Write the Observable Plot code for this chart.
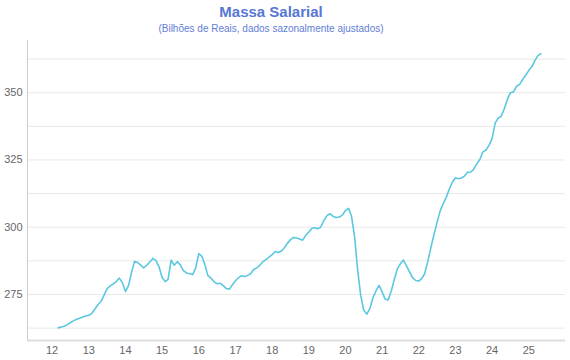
<!DOCTYPE html>
<html>
<head>
<meta charset="utf-8">
<script src="https://cdn.jsdelivr.net/npm/d3@7"></script>
<script src="https://cdn.jsdelivr.net/npm/@observablehq/plot@0.6"></script>
<style>
  html, body { margin: 0; padding: 0; background: #fff; }
  #wrap { position: relative; width: 570px; height: 360px; overflow: hidden; font-family: "Liberation Sans", Arial, sans-serif; }
  #title { position: absolute; left: 0; width: 542px; top: 4px; text-align: center; font-size: 15px; line-height: 15px; font-weight: bold; color: #5677d3; }
  #subtitle { position: absolute; left: 0; width: 542px; top: 23.5px; text-align: center; font-size: 10px; line-height: 10px; color: #5f7ed6; }
  #chart { position: absolute; left: 0; top: 38px; }
</style>
</head>
<body>
<div id="wrap">
  <div id="title">Massa Salarial</div>
  <div id="subtitle">(Bilhões de Reais, dados sazonalmente ajustados)</div>
  <div id="chart"></div>
</div>
<script>
// First month of the series and monthly values (R$ bilhões), Mar/2012 – May/2025
const startMonth = new Date(2012, 2, 1);
const values = [
  // 2012 (Mar–Dec)
  262.6, 262.9, 263.2, 263.8, 264.5, 265.2, 265.8, 266.2, 266.6, 267.0,
  // 2013
  267.3, 268.0, 269.5, 271.2, 272.3, 274.7, 277.1, 278.2, 278.9, 279.8, 281.1, 279.4,
  // 2014
  276.1, 278.4, 283.0, 287.3, 286.9, 285.9, 284.9, 285.9, 287.1, 288.4, 287.6, 285.3,
  // 2015
  281.3, 279.8, 280.6, 287.8, 285.9, 287.2, 286.0, 283.9, 283.0, 282.7, 282.4, 284.8,
  // 2016
  290.2, 289.2, 286.2, 282.0, 281.1, 279.7, 279.0, 279.2, 278.3, 277.2, 277.0, 278.6,
  // 2017
  280.1, 281.3, 282.0, 281.7, 282.1, 282.7, 284.3, 284.9, 285.9, 287.2, 288.0, 288.9,
  // 2018
  289.8, 291.0, 290.6, 291.1, 292.3, 294.0, 295.3, 296.2, 296.0, 295.6, 295.2, 297.0,
  // 2019
  298.2, 299.6, 299.8, 299.4, 300.1, 302.6, 304.3, 305.0, 304.0, 303.6, 303.8, 304.5,
  // 2020
  306.2, 307.0, 304.2, 296.5, 284.3, 274.7, 269.2, 267.7, 269.8, 273.8, 276.4, 278.4,
  // 2021
  275.9, 273.2, 273.0, 276.2, 280.5, 284.5, 286.4, 287.8, 285.5, 283.4, 281.2, 280.2,
  // 2022
  280.0, 281.0, 282.8, 287.4, 292.4, 297.2, 301.7, 306.0, 308.8, 311.1, 314.2, 316.7,
  // 2023
  318.4, 318.0, 318.3, 319.0, 320.4, 320.5, 321.5, 323.6, 325.2, 328.0, 328.7, 330.4,
  // 2024
  332.9, 338.8, 340.5, 341.3, 344.0, 347.5, 350.0, 350.3, 352.4, 353.1, 355.0, 356.5,
  // 2025 (Jan–May)
  358.3, 359.7, 361.9, 363.8, 364.5
];
const yTickValues = [275, 300, 325, 350];
const yGridValues = [262.5, 275, 287.5, 300, 312.5, 325, 337.5, 350, 362.5];
const xTickYears = [2012, 2013, 2014, 2015, 2016, 2017, 2018, 2019, 2020, 2021, 2022, 2023, 2024, 2025];
const xDomain = [new Date(2011, 4, 1), new Date(2026, 0, 1)];
const yDomain = [257.9, 369.4];

const data = values.map((v, i) => ({ date: d3.timeMonth.offset(startMonth, i), value: v }));
const xTicks = xTickYears.map(y => new Date(y, 0, 1));

const chart = Plot.plot({
  width: 570,
  height: 322,
  marginTop: 2,
  marginBottom: 20,
  marginLeft: 27,
  marginRight: 5,
  style: { fontFamily: "'Liberation Sans', Arial, sans-serif", fontSize: "11px", color: "#666", background: "#fff" },
  x: { type: "time", domain: xDomain },
  y: { domain: yDomain },
  marks: [
    Plot.gridY(yGridValues, { stroke: "#e9e9e9", strokeOpacity: 1, strokeWidth: 1 }),
    Plot.ruleX([xDomain[0]], { stroke: "#cccccc", strokeWidth: 1 }),
    Plot.ruleY([yDomain[0]], { stroke: "#dddddd", strokeWidth: 2 }),
    Plot.axisY(yTickValues, { tickSize: 0, tickPadding: 5, label: null, fill: "#666" }),
    Plot.axisX(xTicks, { tickSize: 0, tickPadding: 5.5, label: null, tickFormat: d3.timeFormat("%y"), fill: "#666" }),
    Plot.line(data, { x: "date", y: "value", stroke: "#5bc8df", strokeWidth: 1.6 })
  ]
});
document.getElementById("chart").appendChild(chart);
</script>
</body>
</html>
